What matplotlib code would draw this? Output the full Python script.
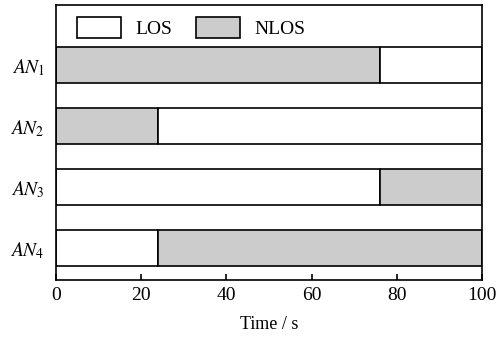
import numpy as np
import matplotlib.pyplot as plt
from matplotlib.patches import Patch

plt.rcParams['font.family'] = ['Liberation Serif', 'DejaVu Serif']
plt.rcParams['mathtext.fontset'] = 'stix'

nodes = ['$AN_1$', '$AN_2$', '$AN_3$', '$AN_4$']
# (start, length, state) segments per node
segments = [
    [(0, 76, 'NLOS'), (76, 24, 'LOS')],
    [(0, 24, 'NLOS'), (24, 76, 'LOS')],
    [(0, 76, 'LOS'), (76, 24, 'NLOS')],
    [(0, 24, 'LOS'), (24, 76, 'NLOS')],
]
colors = {'LOS': 'white', 'NLOS': '#cccccc'}

fig = plt.figure(figsize=(4.96, 3.37), dpi=100)
ax = fig.add_axes([0.113, 0.169, 0.859, 0.816])

ypos = np.arange(len(nodes))[::-1]
for y, segs in zip(ypos, segments):
    ax.broken_barh([(s, w) for s, w, _ in segs], (y - 0.295, 0.59),
                   facecolors=[colors[st] for _, _, st in segs],
                   edgecolor='black', linewidth=1.2)

ax.set_xlim(0, 100)
ax.set_ylim(-0.52, 3.99)
ax.set_xticks([0, 20, 40, 60, 80, 100])
ax.set_yticks(ypos)
ax.set_yticklabels(nodes, fontsize=14)
ax.tick_params(axis='x', direction='in', labelsize=14, length=4, width=1.2, pad=5)
ax.tick_params(axis='y', length=0, pad=8)
ax.set_xlabel('Time / s', fontsize=13, labelpad=9)
for sp in ax.spines.values():
    sp.set_linewidth(1.2)

handles = [Patch(facecolor='white', edgecolor='black', linewidth=1.2, label='LOS'),
           Patch(facecolor='#cccccc', edgecolor='black', linewidth=1.2, label='NLOS')]
ax.legend(handles=handles, loc='center left', ncol=2, frameon=False, fontsize=14,
          handlelength=2.27, handleheight=1.25, handletextpad=0.72, columnspacing=1.24,
          bbox_to_anchor=(0.049, 0.918), borderpad=0, borderaxespad=0)

fig.savefig('out.png', dpi=100)
